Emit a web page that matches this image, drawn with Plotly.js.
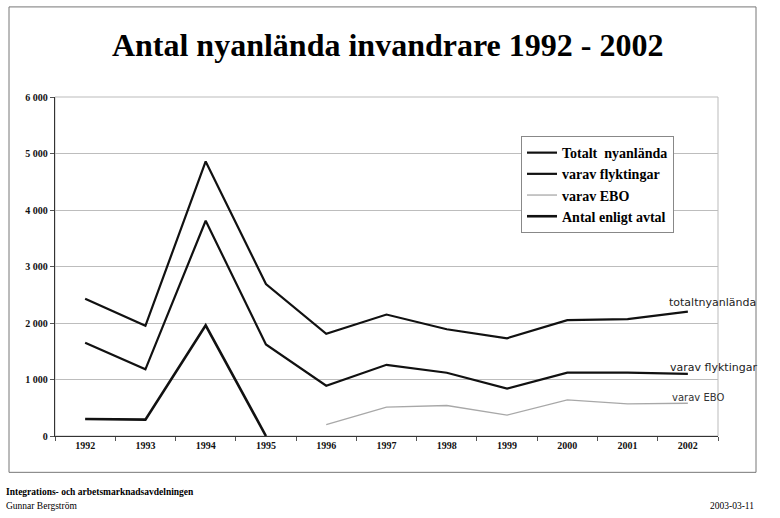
<!DOCTYPE html>
<html>
<head>
<meta charset="utf-8">
<script src="https://cdn.plot.ly/plotly-3.0.1.min.js"></script>
<style>html,body{margin:0;padding:0;background:#fff;}#chart{width:780px;height:518px;}</style>
</head>
<body>
<div id="chart"></div>
<script>
const years = ['1992','1993','1994','1995','1996','1997','1998','1999','2000','2001','2002'];
const totalt = [2430, 1950, 4860, 2690, 1810, 2150, 1890, 1730, 2050, 2070, 2200];
const flyktingar = [1650, 1180, 3810, 1620, 890, 1260, 1120, 840, 1120, 1120, 1100];
const ebo = [null, null, null, null, 200, 510, 540, 370, 640, 570, 580];
const avtal = [300, 290, 1960, 0, null, null, null, null, null, null, null];
const seriesNames = ['Totalt  nyanlända', 'varav flyktingar', 'varav EBO', 'Antal enligt avtal'];
const handNotes = ['totaltnyanlända', 'varav flyktingar', 'varav EBO'];
const yTicks = [0, 1000, 2000, 3000, 4000, 5000, 6000];

// layout geometry (pixels)
const W = 780, H = 518, L = 55, R = 718, T = 97, B = 435.7;
const px = x => (x - L) / (R - L);
const py = y => (B - y) / (B - T);

const serif = 'Liberation Serif, Times New Roman, serif';
const serifBold = 'Liberation Serif, Times New Roman, serif';
const hand = 'DejaVu Sans, sans-serif';

const traces = [
  {x: years, y: totalt, name: '<b>' + seriesNames[0] + '</b>', type: 'scatter', mode: 'lines', line: {color: '#111', width: 2.2}},
  {x: years, y: flyktingar, name: '<b>' + seriesNames[1] + '</b>', type: 'scatter', mode: 'lines', line: {color: '#111', width: 2.2}},
  {x: years, y: ebo, name: '<b>' + seriesNames[2] + '</b>', type: 'scatter', mode: 'lines', line: {color: '#a8a8a8', width: 1.3}},
  {x: years, y: avtal, name: '<b>' + seriesNames[3] + '</b>', type: 'scatter', mode: 'lines', line: {color: '#111', width: 2.6}}
];

const layout = {
  width: W, height: H,
  margin: {l: L, r: W - R, t: T, b: H - B},
  paper_bgcolor: '#fff', plot_bgcolor: '#fff',
  separators: ', ',
  showlegend: true,
  title: {text: '<b>Antal nyanlända invandrare 1992 - 2002</b>', font: {family: serif, size: 32, color: '#000'}, x: 0.497, xanchor: 'center', y: 1 - 45/H, yanchor: 'middle'},
  xaxis: {
    type: 'category', range: [-0.5, 10.5], showgrid: false, zeroline: false,
    showline: true, linecolor: '#333', linewidth: 1.2,
    ticks: 'outside', ticklen: 4, tickcolor: '#555', tickson: 'boundaries',
    tickfont: {family: serifBold, size: 10, color: '#111', weight: 'bold'}, fixedrange: true
  },
  yaxis: {
    range: [0, 6000], tickvals: yTicks, tickformat: ',d',
    showgrid: true, gridcolor: '#bdbdbd', gridwidth: 1, zeroline: false,
    showline: true, linecolor: '#333', linewidth: 1.2,
    ticks: 'outside', ticklen: 4, tickcolor: '#555',
    tickfont: {family: serifBold, size: 10, color: '#111', weight: 'bold'}, fixedrange: true
  },
  legend: {
    x: px(521), y: py(136), xanchor: 'left', yanchor: 'top',
    bgcolor: '#fff', bordercolor: '#888', borderwidth: 1,
    font: {family: serif, size: 14, color: '#000'}, tracegroupgap: 0
  },
  shapes: [
    {type: 'rect', xref: 'paper', yref: 'paper', x0: 0, x1: 1, y0: 0, y1: 1, line: {color: '#bbb', width: 1}, layer: 'below'},
    {type: 'rect', xref: 'paper', yref: 'paper', x0: px(9), x1: px(756), y0: py(472), y1: py(7), line: {color: '#777', width: 1}}
  ],
  annotations: [
    {xref: 'paper', yref: 'y', x: px(667), y: 2370, text: handNotes[0], showarrow: false, xanchor: 'left', yanchor: 'middle', font: {family: hand, size: 11, color: '#222'}},
    {xref: 'paper', yref: 'y', x: px(668), y: 1215, text: handNotes[1], showarrow: false, xanchor: 'left', yanchor: 'middle', font: {family: hand, size: 11, color: '#222'}},
    {xref: 'paper', yref: 'y', x: px(670), y: 685, text: handNotes[2], showarrow: false, xanchor: 'left', yanchor: 'middle', font: {family: hand, size: 10, color: '#333'}},
    {xref: 'paper', yref: 'paper', x: px(4), y: py(492), text: '<b>Integrations- och arbetsmarknadsavdelningen</b>', showarrow: false, xanchor: 'left', yanchor: 'middle', font: {family: serif, size: 9.5, color: '#000'}},
    {xref: 'paper', yref: 'paper', x: px(4), y: py(506), text: 'Gunnar Bergström', showarrow: false, xanchor: 'left', yanchor: 'middle', font: {family: serif, size: 9.5, color: '#000'}},
    {xref: 'paper', yref: 'paper', x: px(756), y: py(506), text: '2003-03-11', showarrow: false, xanchor: 'right', yanchor: 'middle', font: {family: serif, size: 9.5, color: '#000'}}
  ]
};

Plotly.newPlot('chart', traces, layout, {staticPlot: true, displayModeBar: false});
</script>
</body>
</html>
